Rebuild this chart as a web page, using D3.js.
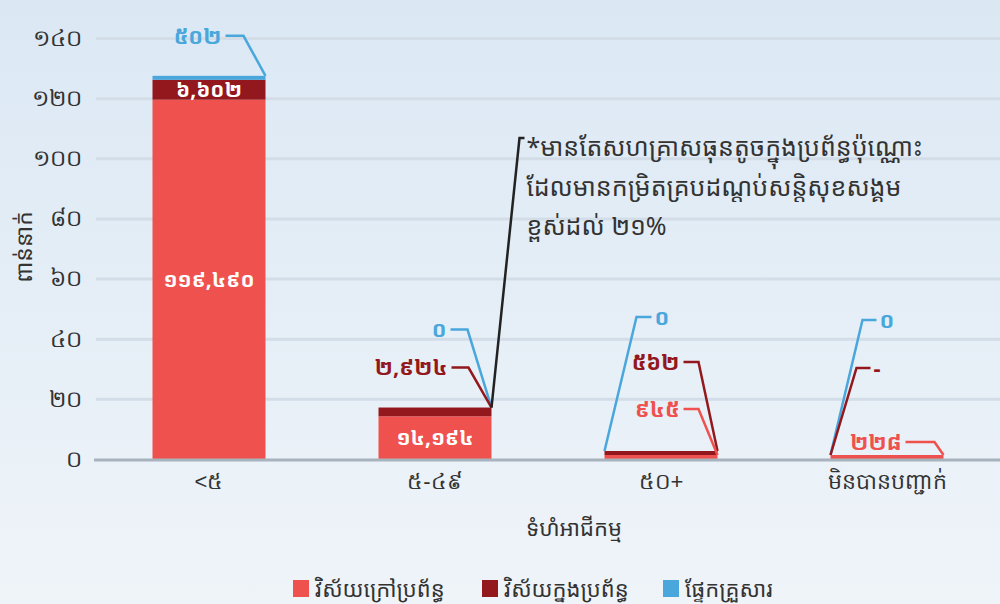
<!DOCTYPE html>
<html>
<head>
<meta charset="utf-8">
<script src="https://cdn.jsdelivr.net/npm/d3@7"></script>
<style>
  body { margin: 0; }
  svg { display: block; font-family: "Noto Sans", "Noto Sans Khmer", sans-serif; }
  .grid line { stroke: #d3dde7; stroke-width: 3; }
  .grid .domain { display: none; }
  .axis text { fill: #333; }
  .axis .tick line { display: none; }
</style>
</head>
<body>
<script>
// categories and values (thousands of people come from these)
const categories = ["<៥", "៥-៤៩", "៥០+", "មិនបានបញ្ជាក់"];
const informal = [119490, 14194, 945, 228];
const formal = [6602, 2924, 562, null];
const household = [502, 0, 0, 0];
const yTicks = [0, 20, 40, 60, 80, 100, 120, 140];
const seriesNames = ["វិស័យក្រៅប្រព័ន្ធ", "វិស័យក្នុងប្រព័ន្ធ", "ផ្ទែកគ្រួសារ"];
const noteLines = ["*មានតែសហគ្រាសធុនតូចក្នុងប្រព័ន្ធប៉ុណ្ណោះ", "ដែលមានកម្រិតគ្របដណ្តប់សន្តិសុខសង្គម", "ខ្ពស់ដល់ ២១%"];

const colors = {informal: "#ef524e", formal: "#93181d", household: "#4aa7dc"};
const keys = ["informal", "formal", "household"];

const width = 1000, height = 604;
const margin = {top: 38, right: 0, bottom: 145, left: 96};

const khmerDigits = "០១២៣៤៥៦៧៨៩";
function toKhmer(s) { return String(s).replace(/[0-9]/g, d => khmerDigits[+d]); }
const fmt = d3.format(",");

const rows = categories.map((c, i) => ({
  cat: c, informal: informal[i], formal: formal[i] || 0, household: household[i]
}));

const x = d3.scaleBand().domain(categories)
  .range([margin.left, width]).paddingInner(0.5).paddingOuter(0.25);
const y = d3.scaleLinear().domain([0, 140000])
  .range([height - margin.bottom, margin.top]);

const svg = d3.select("body").append("svg")
  .attr("width", width).attr("height", height);

const defs = svg.append("defs");
const grad = defs.append("linearGradient").attr("id", "bg")
  .attr("x1", 0).attr("y1", 0).attr("x2", 0).attr("y2", 1);
grad.append("stop").attr("offset", "0%").attr("stop-color", "#dbe8f4");
grad.append("stop").attr("offset", "100%").attr("stop-color", "#eff4f9");
svg.append("rect").attr("width", width).attr("height", height).attr("fill", "url(#bg)");

const y0 = y(0);

// gridlines
svg.append("g").attr("class", "grid")
  .attr("transform", "translate(" + margin.left + ",0)")
  .call(d3.axisLeft(y).tickValues(yTicks.filter(t => t > 0).map(t => t * 1000))
    .tickSize(-(width - margin.left)).tickFormat(""));

// y axis labels
svg.append("g").attr("class", "axis")
  .attr("transform", "translate(" + margin.left + ",0)")
  .call(d3.axisLeft(y).tickValues(yTicks.map(t => t * 1000))
    .tickSize(0).tickPadding(14).tickFormat(d => toKhmer(d / 1000)))
  .call(g => g.select(".domain").remove())
  .selectAll("text").style("font-size", "23px");

svg.append("text")
  .attr("transform", "translate(32," + 247 + ") rotate(-90)")
  .attr("text-anchor", "middle")
  .style("font-size", "23px").attr("fill", "#333")
  .text("ពាន់នាក់");

// bars (tiny non-zero segments get a visible minimum)
const minH = 4;
const segs = [];
rows.forEach((r, i) => {
  let base = y0;
  keys.forEach(k => {
    const v = r[k];
    if (!v) { segs.push({i, k, top: base, bottom: base}); return; }
    const h = Math.max(minH, y0 - y(v));
    segs.push({i, k, top: base - h, bottom: base});
    base -= h;
  });
});
const segOf = (i, k) => segs.find(s => s.i === i && s.k === k);

svg.append("g").selectAll("rect")
  .data(segs.filter(s => s.bottom > s.top))
  .join("rect")
  .attr("x", d => x(categories[d.i]))
  .attr("width", x.bandwidth())
  .attr("y", d => d.top)
  .attr("height", d => d.bottom - d.top)
  .attr("fill", d => colors[d.k]);

// x axis
svg.append("line")
  .attr("x1", margin.left - 2).attr("x2", width)
  .attr("y1", y0 + 1).attr("y2", y0 + 1)
  .attr("stroke", "#a8b4bd").attr("stroke-width", 3);

svg.append("g").attr("class", "axis")
  .attr("transform", "translate(0," + y0 + ")")
  .call(d3.axisBottom(x).tickSize(0).tickPadding(14))
  .call(g => g.select(".domain").remove())
  .selectAll("text").style("font-size", "22px");

svg.append("text")
  .attr("x", (margin.left + width) / 2 + 26).attr("y", 536)
  .attr("text-anchor", "middle")
  .style("font-size", "22px").attr("fill", "#333")
  .text("ទំហំអាជីកម្ម");

// labels inside bars
const inside = [
  {i: 0, k: "informal"}, {i: 0, k: "formal"}, {i: 1, k: "informal"}
];
svg.append("g").selectAll("text")
  .data(inside)
  .join("text")
  .attr("x", d => x(categories[d.i]) + x.bandwidth() / 2)
  .attr("y", d => { const s = segOf(d.i, d.k); return (s.top + s.bottom) / 2; })
  .attr("dy", "0.36em")
  .attr("text-anchor", "middle")
  .attr("fill", "#fff").style("font-size", "21px").style("font-weight", "bold")
  .text(d => toKhmer(fmt(rows[d.i][d.k])));

// callouts: elbow offset from anchor, horizontal run length
const callouts = [
  {i: 0, k: "household", side: "right", dx: -22, dy: -40, run: -18},
  {i: 1, k: "household", side: "right", dx: -24, dy: -78, run: -17},
  {i: 1, k: "formal", side: "right", dx: -23, dy: -40, run: -17},
  {i: 2, k: "household", side: "left", dx: 32, dy: -134, run: 15},
  {i: 2, k: "formal", side: "right", dx: -19, dy: -89, run: -15},
  {i: 2, k: "informal", side: "right", dx: -19, dy: -46, run: -15},
  {i: 3, k: "household", side: "left", dx: 32, dy: -135, run: 14},
  {i: 3, k: "formal", side: "left", dx: 26, dy: -87, run: 14},
  {i: 3, k: "informal", side: "right", dx: -9, dy: -13, run: -29}
];
const values = {informal, formal, household};
const cg = svg.append("g");
callouts.forEach(c => {
  const s = segOf(c.i, c.k);
  const ax = c.side === "right" ? x(categories[c.i]) + x.bandwidth() : x(categories[c.i]);
  const ay = s.top;
  const ex = ax + c.dx, ey = ay + c.dy, hx = ex + c.run;
  cg.append("path")
    .attr("d", d3.line()([[ax, ay], [ex, ey], [hx, ey]]))
    .attr("fill", "none").attr("stroke", colors[c.k]).attr("stroke-width", 2.5);
  const v = values[c.k][c.i];
  cg.append("text")
    .attr("x", hx + (c.run < 0 ? -4 : 3)).attr("y", ey)
    .attr("dy", "0.36em")
    .attr("text-anchor", c.run < 0 ? "end" : "start")
    .attr("fill", colors[c.k]).style("font-size", "22px").style("font-weight", "bold")
    .text(v == null ? "-" : toKhmer(fmt(v)));
});

// note with leader line from the 5-49 stack
const nAx = x(categories[1]) + x.bandwidth();
const nAy = segOf(1, "household").top;
svg.append("path")
  .attr("d", d3.line()([[nAx, nAy], [nAx + 28, 138], [nAx + 33, 138]]))
  .attr("fill", "none").attr("stroke", "#222").attr("stroke-width", 2.5);
svg.append("g").selectAll("text")
  .data(noteLines)
  .join("text")
  .attr("x", nAx + 35).attr("y", (d, i) => 147 + i * 39.5)
  .attr("dy", "0.36em")
  .attr("fill", "#333").style("font-size", "25px")
  .text(d => d);

// legend
const legendX = [293, 482, 663];
const lg = svg.append("g");
keys.forEach((k, i) => {
  lg.append("rect").attr("x", legendX[i]).attr("y", 580)
    .attr("width", 16).attr("height", 17).attr("fill", colors[k]);
  lg.append("text").attr("x", legendX[i] + 22).attr("y", 589)
    .attr("dy", "0.36em").attr("fill", "#333").style("font-size", "22px")
    .text(seriesNames[i]);
});
</script>
</body>
</html>
